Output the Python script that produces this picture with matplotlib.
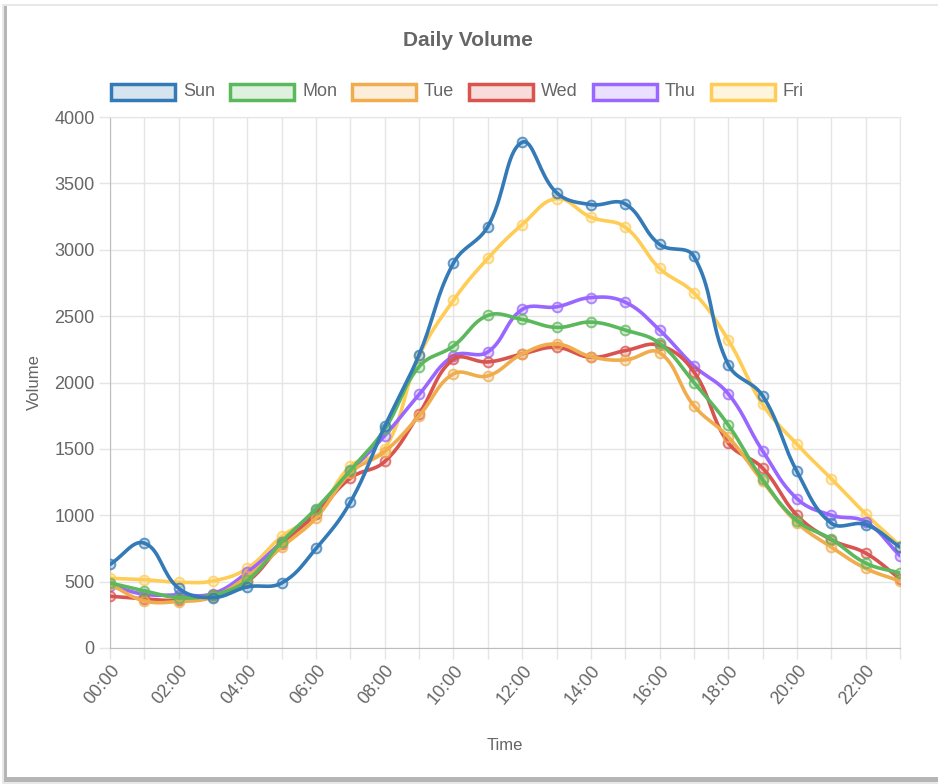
import numpy as np
import matplotlib
matplotlib.use("Agg")
import matplotlib.pyplot as plt
from matplotlib.patches import Rectangle
from matplotlib.colors import to_rgba

plt.rcParams['font.family'] = ['Liberation Sans', 'DejaVu Sans']

# data
hours = list(range(24))
tick_labels = ['%02d:00' % h for h in hours]

sun = [630, 790, 450, 380, 460, 490, 750, 1100, 1670, 2210, 2900, 3175,
       3810, 3430, 3340, 3345, 3040, 2950, 2135, 1900, 1330, 940, 930, 760]
mon = [490, 430, 380, 400, 510, 800, 1050, 1340, 1650, 2120, 2275, 2505,
       2475, 2415, 2455, 2395, 2295, 2000, 1680, 1270, 960, 820, 640, 565]
tue = [480, 355, 350, 385, 540, 760, 980, 1320, 1480, 1750, 2065, 2050,
       2215, 2290, 2195, 2170, 2225, 1825, 1590, 1255, 945, 760, 600, 505]
wed = [390, 370, 360, 400, 500, 780, 1010, 1280, 1405, 1765, 2175, 2155,
       2215, 2265, 2190, 2240, 2280, 2080, 1545, 1355, 1000, 815, 715, 520]
thu = [470, 405, 400, 410, 570, 800, 1040, 1330, 1600, 1910, 2200, 2230,
       2550, 2570, 2640, 2605, 2395, 2125, 1915, 1485, 1125, 1000, 950, 695]
fri = [525, 515, 495, 505, 600, 840, 1010, 1370, 1500, 2200, 2620, 2935,
       3190, 3385, 3245, 3170, 2860, 2675, 2320, 1835, 1535, 1275, 1010, 770]

names = ['Sun', 'Mon', 'Tue', 'Wed', 'Thu', 'Fri']
series = [sun, mon, tue, wed, thu, fri]
colors = ['#337ab7', '#5cb85c', '#f0ad4e', '#d9534f', '#9966ff', '#ffcd56']

grey = '#666666'
grid_c = '#e5e5e5'


def smooth(xs, ys, sx, sy, t=0.4, n=20):
    # chart.js style bezier spline, distances measured in pixel space
    px = np.asarray(xs, float) * sx
    py = np.asarray(ys, float) * sy
    m = len(px)
    c1 = np.zeros((m, 2))
    c2 = np.zeros((m, 2))
    for i in range(m):
        p0 = (px[max(i - 1, 0)], py[max(i - 1, 0)])
        p1 = (px[i], py[i])
        p2 = (px[min(i + 1, m - 1)], py[min(i + 1, m - 1)])
        d01 = np.hypot(p1[0] - p0[0], p1[1] - p0[1])
        d12 = np.hypot(p2[0] - p1[0], p2[1] - p1[1])
        tot = d01 + d12
        s01 = d01 / tot if tot else 0
        s12 = d12 / tot if tot else 0
        fa, fb = t * s01, t * s12
        c1[i] = (p1[0] - fa * (p2[0] - p0[0]), p1[1] - fa * (p2[1] - p0[1]))
        c2[i] = (p1[0] + fb * (p2[0] - p0[0]), p1[1] + fb * (p2[1] - p0[1]))
    outx, outy = [px[0]], [py[0]]
    u = np.linspace(0, 1, n)[1:]
    for i in range(m - 1):
        a = np.array([px[i], py[i]])
        b = c2[i]
        c = c1[i + 1]
        d = np.array([px[i + 1], py[i + 1]])
        pts = ((1 - u) ** 3)[:, None] * a + (3 * (1 - u) ** 2 * u)[:, None] * b \
            + (3 * (1 - u) * u ** 2)[:, None] * c + (u ** 3)[:, None] * d
        outx.extend(pts[:, 0])
        outy.extend(pts[:, 1])
    return np.array(outx) / sx, np.array(outy) / sy


fig = plt.figure(figsize=(9.38, 7.84), dpi=100)
W, H = 938, 784

# card with shadow (left and bottom), open on the right
fig.patches.append(Rectangle((2 / W, 0), (W - 2) / W, 780 / H, transform=fig.transFigure,
                             facecolor='#e8e8e8', edgecolor='none', zorder=0))
fig.patches.append(Rectangle((4 / W, 2 / H), (W - 4) / W, 776 / H, transform=fig.transFigure,
                             facecolor='#b5b5b5', edgecolor='none', zorder=0))
fig.patches.append(Rectangle((7 / W, 7 / H), (W - 7) / W, 771 / H, transform=fig.transFigure,
                             facecolor='white', edgecolor='none', zorder=1))

ax = fig.add_axes([110 / W, 1 - 648 / H, 790 / W, 531 / H])
ax.set_facecolor('none')
ax.set_zorder(2)

sx = 790 / 23
sy = 531 / 4000
for k in range(len(series) - 1, -1, -1):
    xs, ys = smooth(hours, series[k], sx, sy)
    ax.plot(xs, ys, color=colors[k], lw=2.6, zorder=3 + (6 - k), solid_capstyle='round')
    ax.plot(hours, series[k], 'o', ms=7, mec=to_rgba(colors[k], 0.75),
            mfc=to_rgba(colors[k], 0.25), mew=1.4, zorder=3 + (6 - k))

ax.set_xlim(0, 23)
ax.set_ylim(0, 4000)
ax.set_yticks(np.arange(0, 4001, 500))
ax.set_xticks(hours, minor=True)
ax.set_xticks(hours[::2])
ax.set_xticklabels(tick_labels[::2], rotation=50, ha='right', va='top',
                   rotation_mode='anchor')
ax.tick_params(axis='both', which='both', colors=grid_c, labelcolor=grey,
               labelsize=13, length=8, width=1)
ax.tick_params(axis='x', pad=2)
ax.tick_params(axis='y', pad=3)
ax.tick_params(axis='x', which='minor', length=8)
ax.grid(True, which='both', color=grid_c, lw=1)
ax.set_axisbelow(True)
for s in ['top', 'right']:
    ax.spines[s].set_color(grid_c)
for s in ['left', 'bottom']:
    ax.spines[s].set_color('#bdbdbd')

ax.set_xlabel('Time', color=grey, fontsize=12, labelpad=22)
ax.set_ylabel('Volume', color=grey, fontsize=12)
ax.yaxis.set_label_coords(-0.086, 0.5)

fig.text(468 / W, 1 - 40 / H, 'Daily Volume', ha='center', va='center',
         fontsize=15, fontweight='bold', color=grey)

# legend drawn as chart.js style boxes
fig.canvas.draw()
r = fig.canvas.get_renderer()
xpos = 111
ly = 92
for k, nm in enumerate(names):
    fig.patches.append(Rectangle((xpos / W, 1 - (ly + 8) / H), 64 / W, 16 / H,
                                 transform=fig.transFigure, facecolor=to_rgba(colors[k], 0.2),
                                 edgecolor=colors[k], lw=2.5, zorder=3))
    t = fig.text((xpos + 72) / W, 1 - ly / H, nm, ha='left', va='center',
                 fontsize=13, color=grey)
    w = t.get_window_extent(renderer=r).width
    xpos += 72 + w + 15

fig.savefig('out.png', dpi=100)
